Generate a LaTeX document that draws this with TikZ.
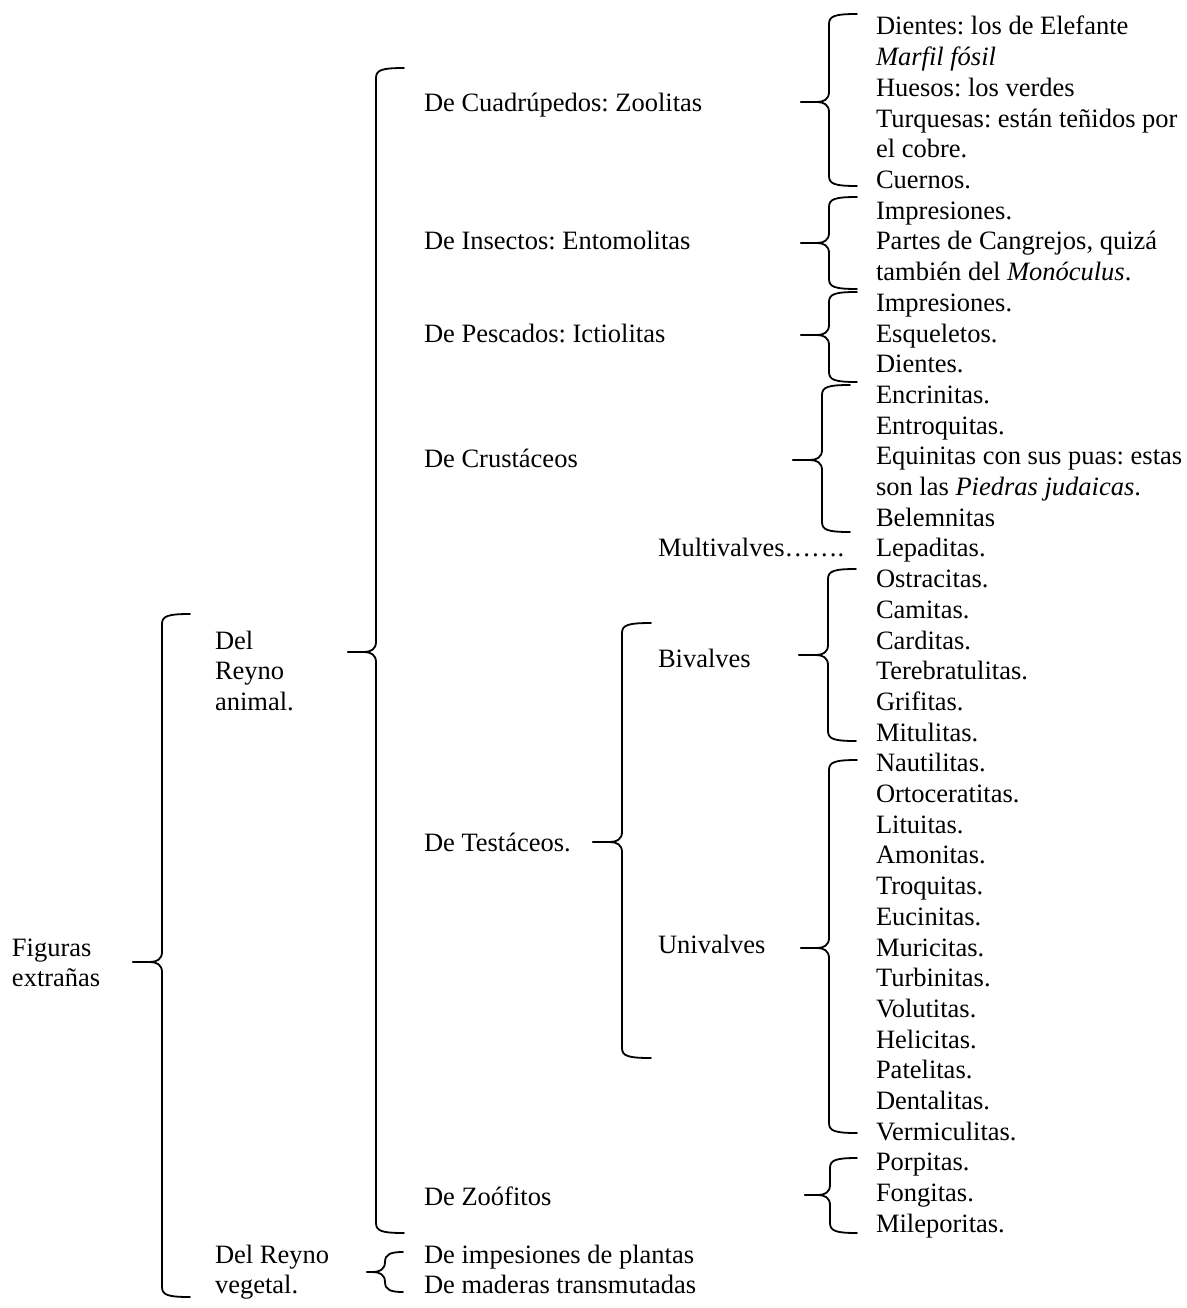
\documentclass[tikz,border=0pt]{standalone}
\usepackage{fontspec}
\setmainfont{Liberation Serif}
\frenchspacing
\tikzset{
  txt/.style={anchor=base west, inner sep=0pt, outer sep=0pt, font=\fontsize{26.5}{30.7}\selectfont},
  brk/.style={line width=1.8pt, line cap=round, line join=round}
}
% #1 vertical x, #2 top y, #3 bottom y, #4 cusp y, #5 cusp x, #6 hook end x
\newcommand\mybrace[6]{%
  \draw[brk] (#6,#2) .. controls (#1+6,#2) and (#1,#2+2) .. (#1,#2+10)
     -- (#1,#4-10) .. controls (#1,#4-3) and (#1-5,#4) .. (#1-12,#4) -- (#5,#4);
  \draw[brk] (#5,#4) -- (#1-12,#4) .. controls (#1-5,#4) and (#1,#4+3) .. (#1,#4+10)
     -- (#1,#3-10) .. controls (#1,#3-2) and (#1+6,#3) .. (#6,#3);
}
\begin{document}
\begin{tikzpicture}[x=1pt,y=-1pt]
\fill[white] (0,0) rectangle (1186,1308);
\useasboundingbox (0,0) rectangle (1186,1308);

% right column
\foreach \t [count=\i] in {
  {Dientes: los de Elefante},
  {\textit{Marfil fósil}},
  {Huesos: los verdes},
  {Turquesas: están teñidos por},
  {el cobre.},
  {Cuernos.},
  {Impresiones.},
  {Partes de Cangrejos, quizá},
  {también del \textit{Monóculus}.},
  {Impresiones.},
  {Esqueletos.},
  {Dientes.},
  {Encrinitas.},
  {Entroquitas.},
  {Equinitas con sus puas: estas},
  {son las \textit{Piedras judaicas}.},
  {Belemnitas},
  {Lepaditas.},
  {Ostracitas.},
  {Camitas.},
  {Carditas.},
  {Terebratulitas.},
  {Grifitas.},
  {Mitulitas.},
  {Nautilitas.},
  {Ortoceratitas.},
  {Lituitas.},
  {Amonitas.},
  {Troquitas.},
  {Eucinitas.},
  {Muricitas.},
  {Turbinitas.},
  {Volutitas.},
  {Helicitas.},
  {Patelitas.},
  {Dentalitas.},
  {Vermiculitas.},
  {Porpitas.},
  {Fongitas.},
  {Mileporitas.}}
  \node[txt] (r\i) at (876,{35+(\i-1)*30.7}) {\t};

% second level
\node[txt] (cuad) at (424,112) {De Cuadrúpedos: Zoolitas};
\node[txt] (inse) at (424,249) {De Insectos: Entomolitas};
\node[txt] (pesc) at (424,342) {De Pescados: Ictiolitas};
\node[txt] (crus) at (424,467) {De Crustáceos};
\node[txt] (test) at (424,851) {De Testáceos.};
\node[txt] (zoof) at (424,1205) {De Zoófitos};
\node[txt] (plan) at (424,1263) {De impesiones de plantas};
\node[txt] (made) at (424,1293.7) {De maderas transmutadas};

% third level
\node[txt] (multi) at (658,556.9) {Multivalves…….};
\node[txt] (biv) at (658,667) {Bivalves};
\node[txt] (univ) at (658,953) {Univalves};

% first level
\node[txt] (del1) at (215,649) {Del};
\node[txt] (del2) at (215,679.7) {Reyno};
\node[txt] (del3) at (215,710.4) {animal.};
\node[txt] (veg1) at (215,1263) {Del Reyno};
\node[txt] (veg2) at (215,1293.7) {vegetal.};
\node[txt] (fig1) at (12,956) {Figuras};
\node[txt] (fig2) at (12,986.7) {extrañas};

% brackets
\mybrace{162}{614}{1297}{962}{133}{190}   % Figuras extrañas
\mybrace{376}{68}{1233}{652}{348}{404}    % Del Reyno animal
\mybrace{385}{1252}{1292}{1272}{367}{403} % Del Reyno vegetal
\mybrace{622}{623}{1058}{842}{593}{651}   % De Testáceos
\mybrace{829}{14}{186}{102}{801}{857}     % Cuadrupedos
\mybrace{829}{197}{289}{243}{801}{857}    % Insectos
\mybrace{829}{292}{382}{335}{801}{857}    % Pescados
\mybrace{822}{385}{532}{460}{793}{850}    % Crustaceos
\mybrace{828}{569}{741}{655}{799}{856}    % Bivalves
\mybrace{829}{760}{1133}{948}{801}{857}   % Univalves
\mybrace{830}{1158}{1233}{1195}{805}{857} % Zoofitos
\end{tikzpicture}
\end{document}
